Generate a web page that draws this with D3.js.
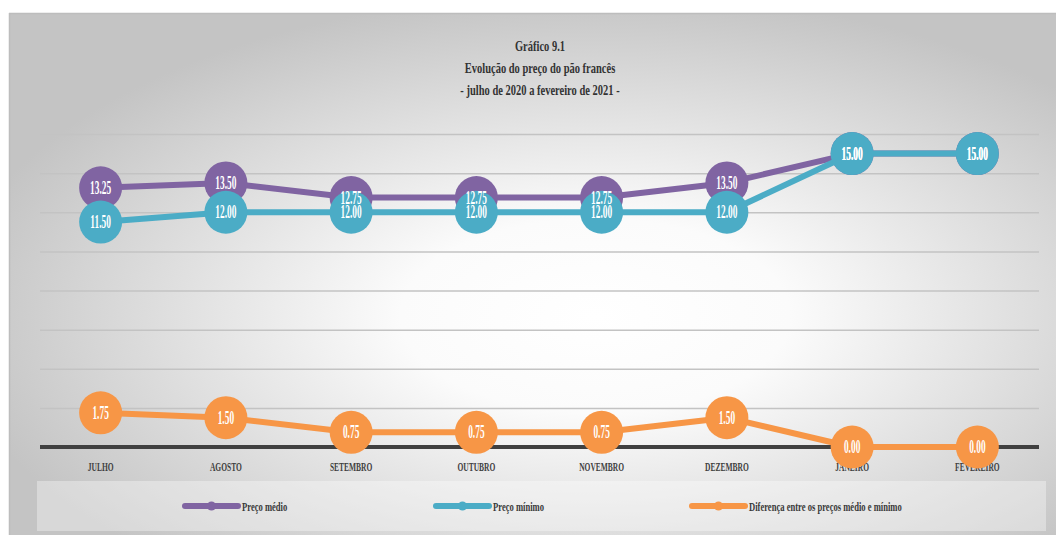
<!DOCTYPE html>
<html>
<head>
<meta charset="utf-8">
<script src="https://cdn.jsdelivr.net/npm/d3@7"></script>
<style>
  html, body { margin: 0; padding: 0; background: #ffffff; }
  svg { display: block; }
  text { font-family: "Liberation Serif", "DejaVu Serif", serif; font-weight: bold; }
</style>
</head>
<body>
<div id="chart"></div>
<script>
// ---------- data ----------
const months = ["JULHO", "AGOSTO", "SETEMBRO", "OUTUBRO", "NOVEMBRO", "DEZEMBRO", "JANEIRO", "FEVEREIRO"];
const precoMedio = [13.25, 13.50, 12.75, 12.75, 12.75, 13.50, 15.00, 15.00];
const precoMinimo = [11.50, 12.00, 12.00, 12.00, 12.00, 12.00, 15.00, 15.00];
const diferenca = [1.75, 1.50, 0.75, 0.75, 0.75, 1.50, 0.00, 0.00];
const yTicks = [0, 2, 4, 6, 8, 10, 12, 14, 16];
const seriesNames = ["Preço médio", "Preço mínimo", "Diferença entre os preços médio e mínimo"];
const seriesColors = ["#8064a2", "#4bacc6", "#f79646"];
const titleLines = ["Gráfico 9.1", "Evolução do preço do pão francês", "-  julho de 2020 a fevereiro de 2021 -"];

// ---------- layout ----------
const W = 1056, H = 535;
const plot = { left: 38, right: 1040, top: 134, bottom: 447 };

const svg = d3.select("#chart").append("svg").attr("width", W).attr("height", H);
const defs = svg.append("defs");
const grad = defs.append("radialGradient").attr("id", "bg")
  .attr("cx", 0.56).attr("cy", 0.58).attr("r", 0.62).attr("fx", 0.56).attr("fy", 0.58);
grad.append("stop").attr("offset", 0).attr("stop-color", "#ffffff");
grad.append("stop").attr("offset", 0.3).attr("stop-color", "#fbfbfb");
grad.append("stop").attr("offset", 1).attr("stop-color", "#c4c4c4");

// frame
svg.append("rect").attr("x", 9).attr("y", 13).attr("width", W - 9).attr("height", H - 13)
  .attr("fill", "url(#bg)");
svg.append("line").attr("x1", 9).attr("x2", W).attr("y1", 13.5).attr("y2", 13.5)
  .attr("stroke", "#bdbdbd").attr("stroke-width", 1.5);
svg.append("line").attr("x1", 9.5).attr("x2", 9.5).attr("y1", 13).attr("y2", H)
  .attr("stroke", "#bdbdbd").attr("stroke-width", 1.5);

// title
const title = svg.append("g");
titleLines.forEach((t, i) => {
  title.append("text")
    .attr("transform", `translate(540,${51 + i * 22}) scale(0.7,1)`)
    .attr("text-anchor", "middle").attr("font-size", 15).attr("fill", "#333333")
    .text(t);
});

// scales
const x = d3.scaleBand().domain(months).range([plot.left, plot.right]);
const y = d3.scaleLinear().domain([0, 16]).range([plot.bottom, plot.top]);

// gridlines via axis
const grid = svg.append("g").attr("transform", `translate(${plot.left + 2},0)`)
  .call(d3.axisLeft(y).tickValues(yTicks.filter(v => v > 0)).tickSize(-(plot.right - plot.left - 3)).tickFormat(""));
grid.select(".domain").remove();
grid.selectAll(".tick line").attr("stroke", "#c3c3c3").attr("stroke-width", 1.5);

// baseline
svg.append("line").attr("x1", plot.left + 2).attr("x2", plot.right - 1)
  .attr("y1", y(0)).attr("y2", y(0)).attr("stroke", "#404040").attr("stroke-width", 4);

// x axis labels
const xAxis = svg.append("g").attr("transform", `translate(0,${y(0)})`)
  .call(d3.axisBottom(x).tickSize(0).tickPadding(15));
xAxis.select(".domain").remove();
xAxis.selectAll(".tick text")
  .attr("font-family", "'Liberation Serif', serif").attr("font-weight", "bold")
  .attr("font-size", 12.5).attr("fill", "#404040")
  .attr("transform", "scale(0.6,1)");

// series
const allSeries = [precoMedio, precoMinimo, diferenca];
const line = d3.line().x((d, i) => x(months[i]) + x.bandwidth() / 2).y(d => y(d));

allSeries.forEach((vals, si) => {
  const g = svg.append("g");
  g.append("path").datum(vals).attr("d", line)
    .attr("fill", "none").attr("stroke", seriesColors[si]).attr("stroke-width", 6)
    .attr("stroke-linejoin", "round").attr("stroke-linecap", "round");
  g.selectAll("circle").data(vals).join("circle")
    .attr("cx", (d, i) => x(months[i]) + x.bandwidth() / 2)
    .attr("cy", d => y(d)).attr("r", 21.5)
    .attr("fill", seriesColors[si]);
});

// data labels (drawn last)
allSeries.forEach((vals, si) => {
  svg.append("g").selectAll("text").data(vals).join("text")
    .attr("transform", (d, i) => `translate(${x(months[i]) + x.bandwidth() / 2},${y(d) + 6}) scale(0.52,1)`)
    .attr("text-anchor", "middle").attr("font-size", 18).attr("fill", "#ffffff")
    .text(d => d.toFixed(2));
});

// legend
svg.append("rect").attr("x", 37).attr("y", 481).attr("width", 1009).attr("height", 50)
  .attr("fill", "#ffffff").attr("fill-opacity", 0.35);
const legendX = [183, 434, 690];
seriesNames.forEach((name, si) => {
  const lg = svg.append("g").attr("transform", `translate(${legendX[si]},506)`);
  lg.append("line").attr("x1", 2).attr("x2", 55).attr("y1", 0).attr("y2", 0)
    .attr("stroke", seriesColors[si]).attr("stroke-width", 6).attr("stroke-linecap", "round");
  lg.append("circle").attr("cx", 28.5).attr("cy", 0).attr("r", 4.5).attr("fill", seriesColors[si]);
  lg.append("text").attr("transform", "translate(59,4.5) scale(0.66,1)")
    .attr("font-size", 13).attr("fill", "#3a3a3a").text(name);
});
</script>
</body>
</html>
